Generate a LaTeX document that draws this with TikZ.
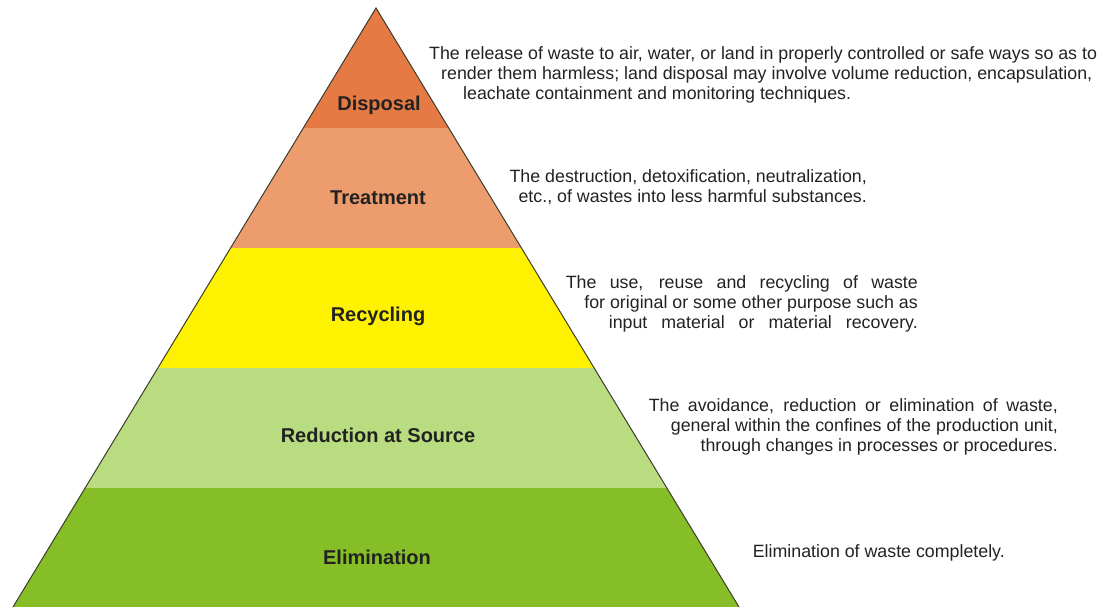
\documentclass[tikz,border=0pt]{standalone}
\usepackage{fontspec}
\setmainfont{Liberation Sans}
\usetikzlibrary{positioning}
\definecolor{cDisposal}{HTML}{E57A44}
\definecolor{cTreatment}{HTML}{ED9D6D}
\definecolor{cRecycling}{HTML}{FFF200}
\definecolor{cReduction}{HTML}{B8DC7F}
\definecolor{cElimination}{HTML}{86BE28}
\definecolor{cEdge}{HTML}{3C3C2C}
\definecolor{cText}{HTML}{222222}

\begin{document}
\begin{tikzpicture}[x=1pt,y=-1pt,
  lbl/.style={font=\fontsize{20}{23}\selectfont\bfseries,text=cText,inner sep=0pt},
  desc/.style={font=\fontsize{17.8}{19.8}\selectfont,text=cText,inner sep=0pt},
  edge/.style={draw=cEdge,line width=1pt}
]
\useasboundingbox (0,0) rectangle (1107,607);
\coordinate (apex) at (376,8);
\coordinate (bl) at (13,607);
\coordinate (br) at (739,607);
% layers of the pyramid
\begin{scope}
  \clip (apex) -- (bl) -- (br) -- cycle;
  \fill[cDisposal] (0,0) rectangle (1107,128);
  \fill[cTreatment] (0,128) rectangle (1107,248);
  \fill[cRecycling] (0,248) rectangle (1107,368);
  \fill[cReduction] (0,368) rectangle (1107,488);
  \fill[cElimination] (0,488) rectangle (1107,607);
\end{scope}
\draw[edge] (bl) -- (apex) -- (br);
% layer names
\node[lbl] (disposal) at (379,105) {Disposal};
\node[lbl] (treatment) at (378,198) {Treatment};
\node[lbl] (recycling) at (378,316) {Recycling};
\node[lbl] (reduction) at (378,435) {Reduction at Source};
\node[lbl] (elimination) at (377,557) {Elimination};
% descriptions
\node[desc,anchor=west,align=left] (dispdesc) at (429,75)
  {The release of waste to air, water, or land in properly controlled or safe ways so as to\\
   \hspace*{12pt}render them harmless; land disposal may involve volume reduction, encapsulation,\\
   \hspace*{34pt}leachate containment and monitoring techniques.};
\node[desc,anchor=east,align=right] (treatdesc) at (867,187)
  {The destruction, detoxification, neutralization,\\
   etc., of wastes into less harmful substances.};
\node[desc,anchor=east,align=right] (recydesc) at (918,304)
  {\makebox[352pt][s]{The use, reuse and recycling of waste}\\
   for original or some other purpose such as\\
   \makebox[309pt][s]{input material or material recovery.}};
\node[desc,anchor=east,align=right] (reddesc) at (1058,427)
  {\makebox[409pt][s]{The avoidance, reduction or elimination of waste,}\\
   general within the confines of the production unit,\\
   through changes in processes or procedures.};
\node[desc,anchor=east] (elimdesc) at (1005,553)
  {Elimination of waste completely.};
\end{tikzpicture}
\end{document}
